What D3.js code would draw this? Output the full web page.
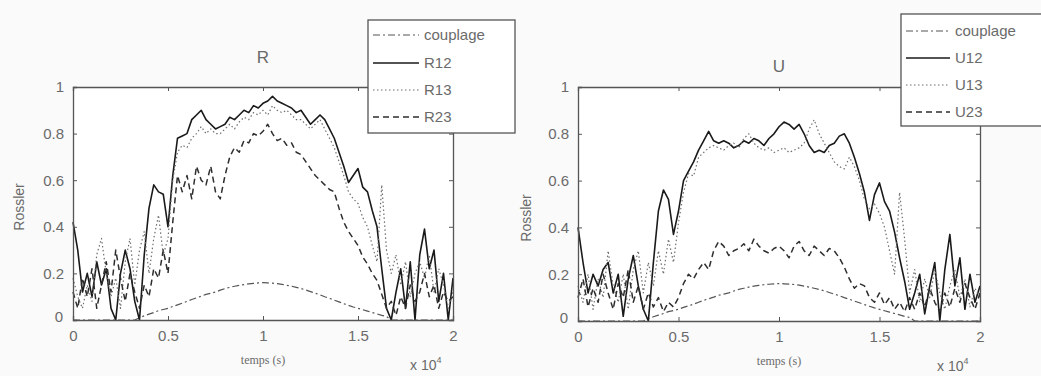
<!DOCTYPE html>
<html>
<head>
<meta charset="utf-8">
<script src="https://cdn.jsdelivr.net/npm/d3@7/dist/d3.min.js"></script>
<style>
  html, body { margin: 0; padding: 0; background: #fafafa; }
  svg { display: block; }
  text { font-family: "Liberation Sans", Arial, sans-serif; fill: #6a6a6a; }
</style>
</head>
<body>
<svg id="fig" width="1041" height="376"></svg>
<script>
// time grid (s), one sample every 250 s
const time = d3.range(0, 20001, 250);

const xTicks = [0, 5000, 10000, 15000, 20000];
const xTickLabels = ["0", "0.5", "1", "1.5", "2"];
const yTicks = [0, 0.2, 0.4, 0.6, 0.8, 1];
const yTickLabels = ["0", "0.2", "0.4", "0.6", "0.8", "1"];

// coupling strength (shared by both systems)
const couplage = [
  0,0,0,0,0,0,0,0,0,0,0,0,0,0,
  0.01,0.018,0.025,0.032,0.04,0.045,0.05,0.058,0.065,0.072,0.08,0.088,0.095,0.102,
  0.11,0.115,0.12,0.128,0.135,0.14,0.145,0.149,0.152,0.155,0.157,0.159,0.16,0.159,
  0.158,0.156,0.153,0.149,0.145,0.14,0.135,0.129,0.122,0.115,0.108,0.1,0.093,0.085,
  0.078,0.07,0.063,0.056,0.05,0.044,0.038,0.032,0.026,0.02,0.015,
  0,0,0,0,0,0,0,0,0,0,0,0,0,0
];

// Rossler system R
const R12 = [
  0.42,0.30,0.12,0.20,0.10,0.25,0.15,0.22,0.05,0.00,0.20,0.30,0.22,0.08,0.00,0.28,
  0.48,0.58,0.55,0.54,0.40,0.62,0.78,0.79,0.80,0.86,0.88,0.90,0.86,0.84,0.82,0.83,
  0.84,0.87,0.86,0.88,0.90,0.89,0.92,0.91,0.93,0.94,0.96,0.94,0.93,0.92,0.91,0.89,
  0.90,0.87,0.84,0.86,0.88,0.86,0.82,0.78,0.72,0.66,0.59,0.62,0.65,0.57,0.55,0.47,
  0.40,0.22,0.05,0.00,0.12,0.22,0.05,0.25,0.00,0.28,0.39,0.22,0.30,0.08,0.20,0.00,0.18
];
const R13 = [
  0.18,0.10,0.05,0.15,0.08,0.28,0.35,0.20,0.10,0.18,0.05,0.25,0.35,0.15,0.30,0.38,
  0.20,0.35,0.45,0.28,0.35,0.60,0.72,0.75,0.74,0.78,0.80,0.83,0.80,0.82,0.80,0.80,
  0.82,0.84,0.82,0.85,0.87,0.86,0.89,0.88,0.90,0.88,0.92,0.90,0.89,0.90,0.88,0.86,
  0.86,0.84,0.82,0.84,0.86,0.82,0.78,0.74,0.68,0.62,0.55,0.52,0.50,0.44,0.40,0.32,
  0.25,0.58,0.30,0.20,0.28,0.15,0.25,0.10,0.20,0.25,0.18,0.28,0.12,0.22,0.15,0.05,0.12
];
const R23 = [
  0.12,0.05,0.18,0.10,0.22,0.05,0.15,0.25,0.12,0.30,0.18,0.08,0.20,0.12,0.05,0.15,
  0.10,0.22,0.18,0.30,0.20,0.42,0.62,0.55,0.62,0.52,0.66,0.60,0.58,0.66,0.55,0.52,
  0.62,0.70,0.74,0.72,0.77,0.76,0.80,0.79,0.81,0.84,0.80,0.77,0.78,0.75,0.76,0.72,
  0.71,0.68,0.65,0.62,0.60,0.58,0.56,0.55,0.48,0.42,0.38,0.35,0.32,0.27,0.24,0.20,
  0.17,0.11,0.05,0.08,0.02,0.10,0.05,0.15,0.08,0.12,0.20,0.10,0.15,0.05,0.12,0.08,0.10
];

// Rossler system U
const U12 = [
  0.40,0.25,0.12,0.20,0.15,0.22,0.25,0.12,0.20,0.02,0.18,0.28,0.15,0.05,0.00,0.25,
  0.47,0.56,0.52,0.37,0.47,0.60,0.64,0.68,0.73,0.77,0.81,0.77,0.76,0.77,0.76,0.74,
  0.75,0.77,0.76,0.78,0.77,0.75,0.78,0.80,0.83,0.85,0.84,0.82,0.84,0.80,0.75,0.72,
  0.73,0.72,0.75,0.76,0.79,0.80,0.76,0.70,0.63,0.55,0.43,0.54,0.59,0.51,0.47,0.38,
  0.27,0.17,0.05,0.12,0.20,0.03,0.15,0.25,0.00,0.22,0.37,0.15,0.27,0.05,0.20,0.08,0.15
];
const U13 = [
  0.15,0.08,0.20,0.05,0.18,0.10,0.30,0.15,0.08,0.20,0.05,0.22,0.30,0.12,0.25,0.15,
  0.30,0.20,0.35,0.25,0.42,0.55,0.63,0.62,0.70,0.72,0.74,0.75,0.74,0.73,0.75,0.76,
  0.74,0.78,0.80,0.76,0.74,0.73,0.74,0.72,0.73,0.74,0.72,0.73,0.74,0.76,0.82,0.86,
  0.80,0.76,0.72,0.68,0.66,0.65,0.70,0.66,0.60,0.52,0.48,0.50,0.46,0.40,0.30,0.20,
  0.55,0.35,0.12,0.22,0.08,0.18,0.10,0.22,0.12,0.05,0.15,0.22,0.10,0.18,0.06,0.14,0.10
];
const U23 = [
  0.10,0.18,0.06,0.14,0.08,0.20,0.12,0.05,0.16,0.10,0.22,0.08,0.15,0.05,0.12,0.06,
  0.10,0.04,0.08,0.06,0.10,0.16,0.20,0.18,0.22,0.25,0.22,0.30,0.34,0.32,0.28,0.30,
  0.31,0.33,0.30,0.35,0.32,0.30,0.29,0.31,0.32,0.30,0.27,0.32,0.34,0.30,0.28,0.32,
  0.30,0.28,0.31,0.30,0.27,0.23,0.18,0.14,0.16,0.15,0.10,0.08,0.12,0.07,0.10,0.05,
  0.08,0.04,0.10,0.05,0.12,0.06,0.14,0.08,0.04,0.12,0.06,0.14,0.08,0.16,0.10,0.05,0.12
];

// line styles: couplage (dash-dot), x12 (solid), x13 (dotted), x23 (dashed)
const styles = [
  { dash: "7,3,2,3", color: "#555", width: 1.2 },
  { dash: null,      color: "#1a1a1a", width: 1.6 },
  { dash: "1.5,2.5", color: "#6e6e6e", width: 1.2 },
  { dash: "6,4",     color: "#2e2e2e", width: 1.5 }
];

const panels = [
  { title: "R", names: ["couplage", "R12", "R13", "R23"], series: [couplage, R12, R13, R23],
    box: { x0: 73, x1: 453, y0: 87, y1: 320 }, titleY: 63,
    legend: { x: 368, y: 20, w: 147, h: 113, rows: [35, 63, 90, 117], s0: 373, s1: 419, tx: 424 },
    ylabY: 207, ylabX: 24 },
  { title: "U", names: ["couplage", "U12", "U13", "U23"], series: [couplage, U12, U13, U23],
    box: { x0: 578, x1: 980, y0: 87, y1: 321 }, titleY: 72,
    legend: { x: 901, y: 14, w: 160, h: 112, rows: [31, 58, 85, 112], s0: 906, s1: 950, tx: 955 },
    ylabY: 218, ylabX: 531 }
];

const svg = d3.select("#fig");

panels.forEach(p => {
  const b = p.box;
  const x = d3.scaleLinear().domain([0, 20000]).range([b.x0, b.x1]);
  const y = d3.scaleLinear().domain([0, 1]).range([b.y1, b.y0]);
  const g = svg.append("g");

  g.append("rect").attr("x", b.x0).attr("y", b.y0)
    .attr("width", b.x1 - b.x0).attr("height", b.y1 - b.y0)
    .attr("fill", "#ffffff");

  // series
  const line = d3.line().x((d, i) => x(time[i])).y(d => y(d));
  p.series.forEach((s, k) => {
    const st = styles[k];
    g.append("path").datum(s).attr("d", line)
      .attr("fill", "none").attr("stroke", st.color)
      .attr("stroke-width", st.width)
      .attr("stroke-dasharray", st.dash)
      .attr("stroke-linejoin", "round");
  });

  // axes (ticks pointing inward, mirrored on top and right)
  const tickLen = 4;
  const axB = d3.axisBottom(x).tickValues(xTicks).tickSize(-tickLen).tickFormat((d, i) => xTickLabels[i]).tickPadding(10);
  const axT = d3.axisTop(x).tickValues(xTicks).tickSize(-tickLen).tickFormat("");
  const axL = d3.axisLeft(y).tickValues(yTicks).tickSize(-tickLen).tickFormat((d, i) => yTickLabels[i]).tickPadding(9);
  const axR = d3.axisRight(y).tickValues(yTicks).tickSize(-tickLen).tickFormat("");

  const gb = g.append("g").attr("transform", `translate(0,${b.y1})`).call(axB);
  const gt = g.append("g").attr("transform", `translate(0,${b.y0})`).call(axT);
  const gl = g.append("g").attr("transform", `translate(${b.x0},0)`).call(axL);
  const gr = g.append("g").attr("transform", `translate(${b.x1},0)`).call(axR);
  [gb, gt, gl, gr].forEach(a => {
    a.select(".domain").attr("stroke", "#555").attr("stroke-width", 1.3);
    a.selectAll(".tick line").attr("stroke", "#555");
    a.selectAll("text").style("font-family", "Liberation Sans, Arial, sans-serif")
      .style("font-size", "15px").attr("fill", "#6a6a6a");
  });
  gl.selectAll(".tick").filter(d => d === 0).select("text").attr("dy", "0.1em").attr("x", -10);

  // title and axis labels
  g.append("text").attr("x", (b.x0 + b.x1) / 2).attr("y", p.titleY)
    .attr("text-anchor", "middle").attr("font-size", 17).text(p.title);
  g.append("text").attr("x", (b.x0 + b.x1) / 2).attr("y", b.y1 + 44)
    .attr("text-anchor", "middle").attr("font-size", 12)
    .style("font-family", "Liberation Serif, serif").text("temps (s)");
  g.append("text").attr("transform", `translate(${p.ylabX},${p.ylabY}) rotate(-90)`)
    .attr("text-anchor", "middle").attr("font-size", 14).text("Rossler");
  const ex = g.append("text").attr("x", b.x1 - 43).attr("y", b.y1 + 50).attr("font-size", 14);
  ex.append("tspan").text("x 10");
  ex.append("tspan").attr("dy", -7).attr("font-size", 9).text("4");

  // legend
  const L = p.legend;
  g.append("rect").attr("x", L.x).attr("y", L.y).attr("width", L.w).attr("height", L.h)
    .attr("fill", "#ffffff").attr("stroke", "#555").attr("stroke-width", 1.3);
  p.names.forEach((n, k) => {
    const st = styles[k];
    g.append("line").attr("x1", L.s0).attr("x2", L.s1).attr("y1", L.rows[k]).attr("y2", L.rows[k])
      .attr("stroke", st.color).attr("stroke-width", st.width)
      .attr("stroke-dasharray", st.dash);
    g.append("text").attr("x", L.tx).attr("y", L.rows[k]).attr("dy", "0.35em")
      .attr("font-size", 15).text(n);
  });
});
</script>
</body>
</html>
